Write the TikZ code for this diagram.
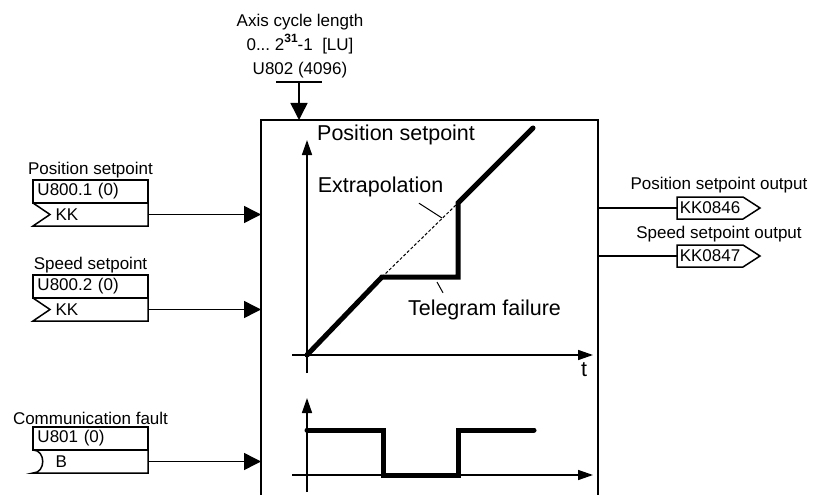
\documentclass[tikz,border=0pt]{standalone}
\usepackage{fontspec}
\setmainfont{Liberation Sans}
\usetikzlibrary{positioning,arrows.meta}

\begin{document}
\begin{tikzpicture}[x=1pt,y=-1pt,font=\fontsize{17}{20}\selectfont,
  valbox/.style={draw,line width=1.5pt,anchor=north west,minimum height=23pt,inner ysep=0pt,inner xsep=4.5pt,outer sep=0pt,text width=106pt,align=left},
  connbox/.style={minimum height=23pt,inner ysep=0pt,inner xsep=4.5pt,outer sep=0pt,text width=106pt,align=left},
  outbox/.style={minimum width=66pt,minimum height=22pt,inner sep=0pt,outer sep=0pt,anchor=west},
  sig/.style={inner sep=0pt},
  big/.style={font=\fontsize{21.5}{25}\selectfont,inner sep=0pt},
  thin/.style={line width=1.5pt},
  arr/.style={-{Triangle[length=17pt,width=17pt]},line width=1.5pt},
  axarr/.style={-{Triangle[length=15pt,width=10pt]},line width=1.5pt},
  curve/.style={line width=5pt,line cap=round},
  leader/.style={line width=1pt}]
\useasboundingbox (0,0) rectangle (815,495);
\clip (0,0) rectangle (815,495);

% function block
\node[draw,line width=1.5pt,minimum width=337pt,minimum height=390pt,inner sep=0pt,outer sep=0pt] (fb) at (429.5,315) {};

% axis cycle length
\node[align=center,font=\fontsize{17}{24}\selectfont,inner sep=0pt,anchor=south] (cyc) at (300,78)
  {Axis cycle length\\0...\ 2\raisebox{8pt}{\fontsize{12}{12}\selectfont\bfseries 31}-1\ \ [LU]\\U802 (4096)};
\coordinate (cbar) at (299,82);
\draw[thin] (cbar) +(-23,0) -- +(23,0);
\draw[arr] (cbar) -- (cbar |- fb.north);

% inputs
\node[valbox] (ps) at (33,180) {U800.1 (0)};
\node[connbox,below=0pt of ps] (psk) {\hspace*{18pt}KK};
\node[sig,above=2pt of ps] (pslbl) {Position setpoint};
\draw[thin] (psk.north west) -- ++(17,11.5) -- (psk.south west) -- (psk.south east) -- (psk.north east);
\draw[arr] (psk.east) -- (fb.west |- psk.east);

\node[valbox] (ss) at (33,275) {U800.2 (0)};
\node[connbox,below=0pt of ss] (ssk) {\hspace*{18pt}KK};
\node[sig,above=2pt of ss] (sslbl) {Speed setpoint};
\draw[thin] (ssk.north west) -- ++(17,11.5) -- (ssk.south west) -- (ssk.south east) -- (ssk.north east);
\draw[arr] (ssk.east) -- (fb.west |- ssk.east);

\node[valbox] (cf) at (33,427) {U801 (0)};
\node[connbox,below=0pt of cf] (cfb) {\hspace*{18pt}B};
\node[sig,above=2pt of cf] (cflbl) {Communication fault};
\draw[thin] (cfb.north west) .. controls +(13,0) and +(13,0) .. (cfb.south west) -- (cfb.south east) -- (cfb.north east);
\draw[arr] (cfb.east) -- (fb.west |- cfb.east);

% outputs
\node[outbox] (pso) at (677,208) {KK0846};
\node[sig,above=4pt of pso,xshift=9pt] (psolbl) {Position setpoint output};
\draw[thin] (pso.north west) -- (pso.north east) -- ++(17,11) -- (pso.south east) -- (pso.south west) -- cycle;
\draw[thin] (fb.east |- pso.west) -- (pso.west);

\node[outbox] (sso) at (677,256) {KK0847};
\node[sig,above=3pt of sso,xshift=9pt] (ssolbl) {Speed setpoint output};
\draw[thin] (sso.north west) -- (sso.north east) -- ++(17,11) -- (sso.south east) -- (sso.south west) -- cycle;
\draw[thin] (fb.east |- sso.west) -- (sso.west);

% position setpoint graph
\draw[axarr] (292,355) -- (593,355);
\draw[axarr] (307,373) -- (307,140);
\node[big,anchor=west] (pslab) at (317,135) {Position setpoint};
\node[big] (tlab) at (584,370) {t};
\draw[curve] (307,355) -- (382,277) -- (458,277) -- (458,203) -- (533,128);
\draw[leader,dash pattern=on 3pt off 2pt] (382,277) -- (458,203);
\node[big] (extr) at (380.5,187) {Extrapolation};
\coordinate (exd) at (442,218);
\draw[leader] ([shift={(38.5,6)}]extr.south) -- (exd);
\node[big] (tel) at (484.5,310) {Telegram failure};
\coordinate (tfd) at (437,282);
\draw[leader] ([shift={(-41.5,-7)}]tel.north) -- (tfd);

% fault signal graph
\draw[axarr] (292,475) -- (593,475);
\draw[axarr] (307,492) -- (307,398);
\draw[curve] (307,430) -- (383,430) -- (383,475) -- (458,475) -- (458,430) -- (534,430);
\end{tikzpicture}
\end{document}
